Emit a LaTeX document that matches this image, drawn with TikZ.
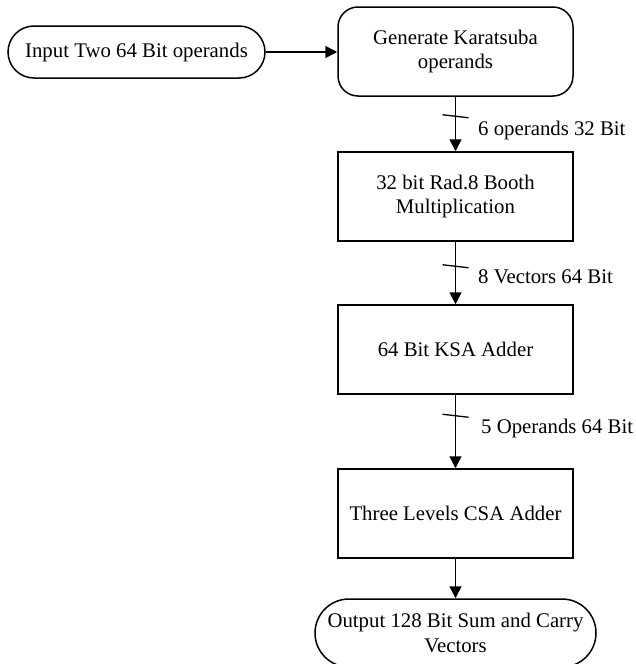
\documentclass[tikz,border=0pt]{standalone}
\usepackage{fontspec}
\setmainfont{Liberation Serif}
\usetikzlibrary{arrows.meta,calc}
\begin{document}
\begin{tikzpicture}[x=1pt,y=-1pt,
  every node/.style={font=\fontsize{20.8}{24.5}\selectfont, align=center, inner sep=0pt},
  stepbox/.style={draw, line width=1.5pt, minimum width=235pt, minimum height=89pt},
  roundbox/.style={stepbox, rounded corners=20pt},
  terminal/.style={draw, line width=1.5pt, rounded corners=#1},
  flow/.style={line width=1.5pt, -{Triangle[length=12pt,width=12pt]}},
  tick/.style={line width=1.3pt},
  buslabel/.style={anchor=west}
]
\useasboundingbox (0,0) rectangle (636,664);

% blocks
\node[terminal=26pt, minimum width=257pt, minimum height=52pt] (in) at (136.5,52) {Input Two 64 Bit operands};
\node[roundbox] (gen) at (455.5,51.5) {Generate Karatsuba\\operands};
\node[stepbox] (booth) at (455.5,196.5) {32 bit Rad.8 Booth\\Multiplication};
\node[stepbox] (ksa) at (455.5,349.5) {64 Bit KSA Adder};
\node[stepbox] (csa) at (455.5,513.5) {Three Levels CSA Adder};
\node[terminal=34pt, minimum width=281pt, minimum height=68pt] (out) at (455.5,633) {Output 128 Bit Sum and Carry\\Vectors};

% connectors
\draw[flow] (in.east) -- (gen.west |- in.east);
\draw[flow] (gen.south) -- (booth.north);
\draw[flow] (booth.south) -- (ksa.north);
\draw[flow] (ksa.south) -- (csa.north);
\draw[flow] (csa.south) -- (out.north);

% bus width marks and labels
\coordinate (t1) at ($(gen.south)+(0,19.5)$);
\coordinate (t2) at ($(booth.south)+(0,24.5)$);
\coordinate (t3) at ($(ksa.south)+(0,21)$);
\draw[tick] ($(t1)+(-13,-1.5)$) -- ($(t1)+(13,1.5)$);
\draw[tick] ($(t2)+(-13,-1.5)$) -- ($(t2)+(13,1.5)$);
\draw[tick] ($(t3)+(-13,-1.5)$) -- ($(t3)+(13,1.5)$);
\node[buslabel] (l1) at (478,130) {6 operands 32 Bit};
\node[buslabel] (l2) at (478,277) {8 Vectors 64 Bit};
\node[buslabel] (l3) at (481,428) {5 Operands 64 Bit};
\end{tikzpicture}
\end{document}
